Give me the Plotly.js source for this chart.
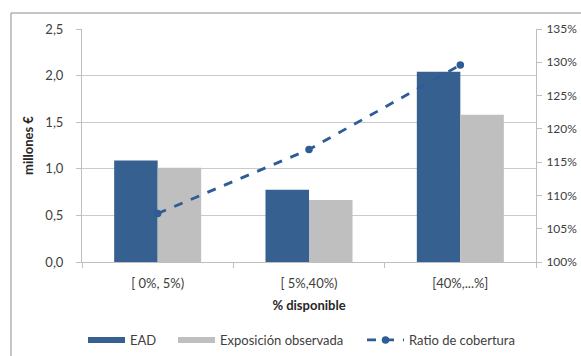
<!DOCTYPE html>
<html>
<head>
<meta charset="utf-8">
<script src="https://cdn.plot.ly/plotly-3.0.1.min.js"></script>
<style>
html,body{margin:0;padding:0;background:#fff;}
#chart{width:581px;height:356px;}
</style>
</head>
<body>
<div id="chart"></div>
<script>
const categories = ['[ 0%, 5%)', '[ 5%,40%)', '[40%,...%]'];
const ead = [1.09, 0.775, 2.04];
const exposicion = [1.01, 0.665, 1.58];
const ratio = [1.073, 1.169, 1.296];

const blue = '#36608f';
const gray = '#bfbfbf';
const lineBlue = '#2e5c96';
const fontFam = 'Lato, "Open Sans", sans-serif';
const txt = '#404040';
const fs = 13;

const W = 581, H = 356, ml = 82, mr = 45, mt = 29, mb = 94;
const pw = W - ml - mr, ph = H - mt - mb;
const px = v => (v - ml) / pw;
const py = v => 1 - (v - mt) / ph;

const traces = [
  {type:'bar', name:'EAD', x:categories, y:ead, marker:{color:blue}, showlegend:false, hoverinfo:'y'},
  {type:'bar', name:'Exposición observada', x:categories, y:exposicion, marker:{color:gray}, showlegend:false, hoverinfo:'y'},
  {type:'scatter', mode:'lines', name:'EAD', x:[null], y:[null], line:{color:blue, width:6}, showlegend:true, legend:'legend', hoverinfo:'skip'},
  {type:'scatter', mode:'lines', name:'Exposición observada', x:[null], y:[null], line:{color:gray, width:6}, showlegend:true, legend:'legend2', hoverinfo:'skip'},
  {type:'scatter', mode:'lines+markers', name:'Ratio de cobertura', x:categories, y:ratio, yaxis:'y2', legend:'legend3',
   line:{color:lineBlue, width:2.75, dash:'dash'}, marker:{color:lineBlue, size:7.5, symbol:'circle'}}
];

const legBase = (xpx) => ({
  orientation:'h', x:px(xpx), xanchor:'left', y:py(340), yanchor:'middle', itemwidth:37,
  font:{family:fontFam, size:fs, color:txt}, bgcolor:'rgba(0,0,0,0)', borderwidth:0
});

const layout = {
  width:W, height:H,
  margin:{l:ml, r:mr, t:mt, b:mb, autoexpand:false},
  paper_bgcolor:'#fff', plot_bgcolor:'#fff',
  separators:',.',
  font:{family:fontFam, size:fs, color:txt},
  barmode:'group', bargap:0.425, bargroupgap:0,
  xaxis:{
    type:'category', showline:true, linecolor:'#bfbfbf', linewidth:1,
    ticks:'outside', tickson:'boundaries', ticklen:5, tickcolor:'#bfbfbf',
    showgrid:false, ticklabelstandoff:9,
    title:{text:'% disponible', font:{family:fontFam, size:fs, color:'#262626', weight:'bold'}, standoff:11},
    automargin:false
  },
  yaxis:{
    range:[0,2.5], dtick:0.5, tickformat:'.1f',
    showline:true, linecolor:'#bfbfbf', linewidth:1,
    ticks:'outside', ticklen:5, tickcolor:'#bfbfbf',
    showgrid:true, gridcolor:'#cacaca', gridwidth:1, zeroline:false,
    ticklabelstandoff:10,
    title:{text:'millones €', font:{family:fontFam, size:fs, color:'#262626', weight:'bold'}, standoff:8},
    automargin:false
  },
  yaxis2:{
    overlaying:'y', side:'right', range:[1.0,1.35], dtick:0.05, tickformat:'.0%',
    showline:true, linecolor:'#bfbfbf', linewidth:1,
    ticks:'outside', ticklen:5, tickcolor:'#bfbfbf', ticklabelstandoff:2,
    tickfont:{family:fontFam, size:12, color:txt},
    showgrid:false, zeroline:false, automargin:false
  },
  legend: legBase(83),
  legend2: legBase(173),
  legend3: legBase(362),
  shapes:[
    {type:'line', xref:'paper', yref:'paper', x0:px(11), x1:px(W+5), y0:py(13), y1:py(13), line:{color:'#8c8c8c', width:1}},
    {type:'line', xref:'paper', yref:'paper', x0:px(11), x1:px(11), y0:py(13), y1:py(H+5), line:{color:'#8c8c8c', width:1}}
  ]
};

Plotly.newPlot('chart', traces, layout, {displayModeBar:false, staticPlot:true});
</script>
</body>
</html>
